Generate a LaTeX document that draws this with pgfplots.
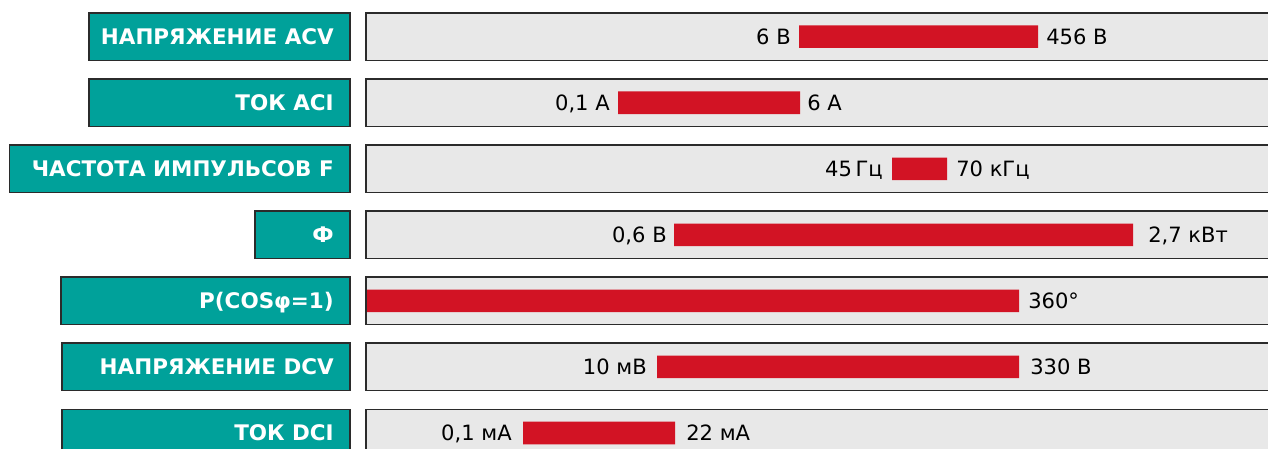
\documentclass[border=0pt]{standalone}
\usepackage{fontspec}
\setmainfont{DejaVu Sans}
\usepackage{pgfplots}
\usepackage{pgfplotstable}
\pgfplotsset{compat=1.18}
\definecolor{tealbox}{HTML}{00A19A}
\definecolor{redbar}{HTML}{D21324}
\definecolor{greybox}{HTML}{E8E8E8}
\definecolor{edge}{HTML}{2B2B2B}

\pgfplotstableread[col sep=ampersand,row sep=\\]{
row&tl&lo&hi&lg&rg&name&lolab&hilab\\
0&89&799&1038&8&8&НАПРЯЖЕНИЕ ACV&6 В&456 В\\
1&89&618&800&8&7&ТОК ACI&0,1 А&6 А\\
2&9.5&892&947&9&9&ЧАСТОТА ИМПУЛЬСОВ F&45\,Гц&70 кГц\\
3&255&674&1133&7&15&Ф&0,6 В&2,7 кВт\\
4&61&367&1019&8&9&P(COSφ=1)&{}&360°\\
5&62&657&1019&10&11&НАПРЯЖЕНИЕ DCV&10 мВ&330 В\\
6&62&523&675&11&11&ТОК DCI&0,1 мА&22 мА\\
}\data

\tikzset{lab/.style={inner sep=0pt,text height=11.5pt,text depth=0pt,
    font=\fontsize{15.8pt}{18pt}\selectfont,text=black}}
\pgfplotsset{
  base/.style={width=951pt,height=336.75pt,scale only axis,
    xmin=0,xmax=1268,ymin=-0.5557,ymax=6.2423,y dir=reverse,
    hide axis,clip bounding box=upper bound,at={(0,0)},anchor=south west}
}

\begin{document}
\begin{tikzpicture}
\begin{axis}[base, xbar stacked, bar width=35.6pt]
\addplot[draw=none,fill=none] table[x=tl,y=row]{\data};
\addplot[fill=tealbox,draw=edge,line width=1.1pt] table[x expr=350-\thisrow{tl},y=row]{\data};
\addplot[draw=none,fill=none] table[x expr=16,y=row]{\data};
\addplot[fill=greybox,draw=edge,line width=1.1pt] table[x expr=930,y=row]{\data};
\end{axis}
\begin{axis}[base, xbar stacked, bar width=16.9pt]
\addplot[draw=none,fill=none] table[x=lo,y=row]{\data};
\addplot[fill=redbar,draw=none] table[x expr=\thisrow{hi}-\thisrow{lo},y=row]{\data};
\end{axis}
\begin{axis}[base, nodes near coords, point meta=explicit symbolic]
\addplot[draw=none, every node near coord/.append style={lab,anchor=east}]
  table[x expr=\thisrow{lo}-\thisrow{lg},y=row,meta=lolab]{\data};
\addplot[draw=none, every node near coord/.append style={lab,anchor=west}]
  table[x expr=\thisrow{hi}+\thisrow{rg},y=row,meta=hilab]{\data};
\addplot[draw=none, every node near coord/.append style={lab,anchor=east,text=white,
    font=\fontsize{16.1pt}{18pt}\selectfont\bfseries}]
  table[x expr=334,y=row,meta=name]{\data};
\end{axis}
\path (current axis.south west) rectangle (current axis.north east);
\end{tikzpicture}
\end{document}
